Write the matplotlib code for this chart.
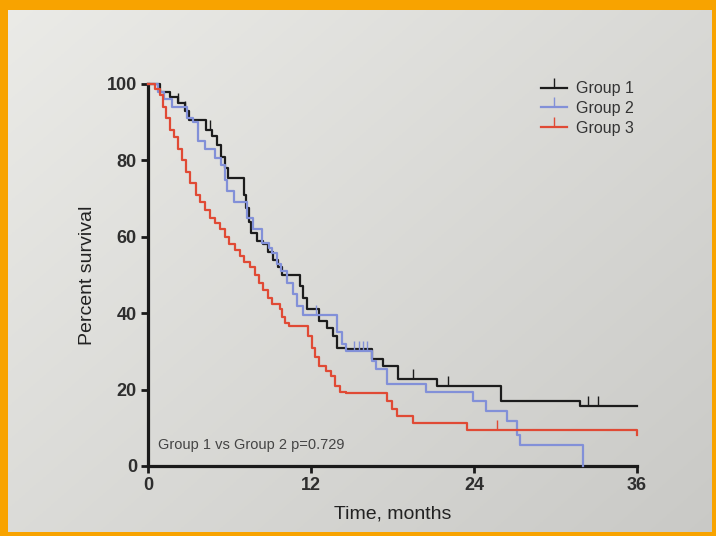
import numpy as np
import matplotlib.pyplot as plt
from matplotlib.lines import Line2D

plt.rcParams['font.family'] = ['Liberation Sans', 'DejaVu Sans']

# Kaplan-Meier steps (time in months, percent survival)
g1_time = [0, 0.9, 1.6, 2.2, 2.7, 3.0, 4.3, 4.7, 5.1, 5.4, 5.7, 5.9, 7.1, 7.2, 7.4, 7.6,
           8.0, 8.5, 8.8, 9.2, 9.6, 9.9, 11.2, 11.4, 11.7, 12.6, 13.2, 13.6, 13.9, 14.6,
           16.5, 17.3, 18.4, 21.3, 26.0, 31.8, 36]
g1_surv = [100, 98, 96.5, 95, 93, 90.5, 88, 86.5, 84, 81, 78, 75.3, 71, 67.5, 64, 61,
           59, 58, 56, 54, 52, 50, 47, 44, 41, 38, 36, 34, 31, 30.5,
           28, 26.2, 22.7, 21, 17.1, 15.8, 15.8]
g1_cens = [2.2, 2.7, 4.6, 19.5, 22.1, 32.4, 33.1]

g2_time = [0, 0.7, 1.2, 1.8, 2.9, 3.3, 3.7, 4.2, 4.9, 5.4, 5.7, 5.8, 6.3, 7.3, 7.7, 8.4,
           8.9, 9.1, 9.5, 9.8, 10.2, 10.7, 11.0, 11.4, 13.9, 14.3, 14.6, 16.5, 16.8, 17.6,
           20.5, 23.9, 24.9, 26.4, 27.2, 27.4, 32.0]
g2_surv = [100, 98, 96, 94, 91, 90, 85, 83, 80.5, 78.7, 75, 72, 69, 65, 62, 58.4,
           57, 55.8, 53, 51, 48, 45, 42, 39.5, 35, 32, 30, 27.5, 25.5, 21.5,
           19.5, 17, 14.3, 11.7, 8, 5.5, 0]
g2_cens = [12.4, 15.2, 15.5, 15.8, 16.1]

g3_time = [0, 0.5, 0.9, 1.1, 1.3, 1.6, 1.9, 2.2, 2.5, 2.8, 3.1, 3.5, 3.8, 4.2, 4.6, 4.9,
           5.3, 5.7, 6.0, 6.4, 6.8, 7.1, 7.5, 7.9, 8.2, 8.5, 8.8, 9.1, 9.7, 9.9, 10.1,
           10.4, 11.8, 12.1, 12.3, 12.6, 13.1, 13.5, 13.8, 14.1, 14.6, 17.6, 18.0, 18.3,
           19.5, 23.5, 36]
g3_surv = [100, 98.7, 97, 94, 91, 88, 86, 83, 80, 77, 74, 71, 69, 67, 65, 63.5,
           62, 60, 58, 56.5, 55, 53.5, 52, 50, 48, 46, 44, 42.5, 41, 39, 37.5,
           36.6, 34, 31, 28.5, 26.2, 25, 23.5, 21, 19.5, 19, 17, 15, 13,
           11.2, 9.4, 8]
g3_cens = [25.7]

groups = ["Group 1", "Group 2", "Group 3"]
colors = ["#1c1c1c", "#8290d8", "#e04a35"]
x_ticks = [0, 12, 24, 36]
y_ticks = [0, 20, 40, 60, 80, 100]
p_text = "Group 1 vs Group 2 p=0.729"

fig = plt.figure(figsize=(7.16, 5.36), dpi=100)
fig.patch.set_facecolor("#f8a300")

# paper background with soft lighting
bg = fig.add_axes([8 / 716, 4 / 536, 704 / 716, 522 / 536])
yy, xx = np.mgrid[0:1:200j, 0:1:200j]
shade = 0.92 - 0.07 * xx - 0.06 * yy
bg.imshow(np.dstack([shade, shade, shade * 0.985]), extent=[0, 1, 0, 1],
          aspect="auto", origin="upper", vmin=0, vmax=1)
bg.axis("off")

ax = fig.add_axes([148 / 716, 70 / 536, 489 / 716, 382 / 536])
ax.patch.set_alpha(0)

data = [(g1_time, g1_surv, g1_cens), (g2_time, g2_surv, g2_cens), (g3_time, g3_surv, g3_cens)]
for (t, s, c), col, name in zip(data, colors, groups):
    ax.step(t, s, where="post", color=col, lw=1.6, clip_on=False, zorder=3)
    # censored marks sit on the curve
    idx = np.searchsorted(t, c, side="right") - 1
    ax.plot(c, np.array(s)[idx], ls="none", marker=2, ms=7, mew=1.0, color=col,
            clip_on=False, zorder=3)

ax.set_xlim(0, 36)
ax.set_ylim(0, 100)
ax.set_xticks(x_ticks)
ax.set_yticks(y_ticks)
for sp in ["top", "right"]:
    ax.spines[sp].set_visible(False)
for sp in ["left", "bottom"]:
    ax.spines[sp].set_linewidth(2.3)
    ax.spines[sp].set_color("#1a1a1a")
ax.tick_params(width=2, length=5, colors="#1a1a1a", labelsize=13, pad=3)
for lab in ax.get_xticklabels() + ax.get_yticklabels():
    lab.set_fontweight("bold")
    lab.set_color("#2e2e2e")

ax.set_xlabel("Time, months", fontsize=14, color="#222222", labelpad=8)
ax.set_ylabel("Percent survival", fontsize=14, color="#222222", labelpad=8)

ax.text(0.7, 5.5, p_text, fontsize=10.5, color="#444444", va="center")

handles = [Line2D([0], [0], color=c, lw=1.6, marker=2, ms=7, mew=1.0) for c in colors]
ax.legend(handles, groups, loc="upper left", bbox_to_anchor=(0.775, 1.045),
          frameon=False, fontsize=11.5, handlelength=1.6, handletextpad=0.6,
          labelspacing=0.3, labelcolor="#333333")

fig.savefig("out.png", dpi=100, facecolor=fig.get_facecolor())
